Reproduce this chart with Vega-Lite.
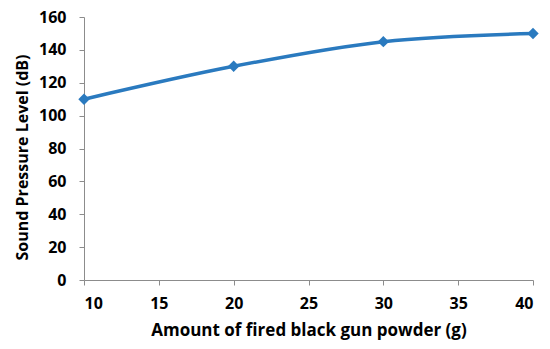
{
  "$schema": "https://vega.github.io/schema/vega-lite/v6.json",
  "width": 449,
  "height": 263,
  "autosize": {"type": "none"},
  "padding": {"left": 84, "top": 17, "right": 17, "bottom": 69},
  "background": "white",
  "data": {"values": [
    {"powder": 10, "spl": 110},
    {"powder": 20, "spl": 130},
    {"powder": 30, "spl": 145},
    {"powder": 40, "spl": 150}
  ]},
  "config": {
    "view": {"stroke": null},
    "font": "Open Sans"
  },
  "mark": {"type": "line", "interpolate": "monotone", "color": "#2a7abf", "strokeWidth": 3.5,
    "point": {"shape": "diamond", "size": 130, "filled": true, "color": "#2a7abf"}},
  "encoding": {
    "x": {"field": "powder", "type": "quantitative",
      "scale": {"domain": [10, 40], "nice": false, "zero": false},
      "axis": {"title": "Amount of fired black gun powder (g)", "values": [10, 15, 20, 25, 30, 35, 40],
        "grid": false, "domainColor": "#8c8c8c", "tickColor": "#8c8c8c", "tickSize": 5,
        "labelFont": "Open Sans", "labelFontSize": 16, "labelFontWeight": "bold", "labelColor": "#000",
        "labelPadding": 10, "titleFont": "Open Sans", "titleFontSize": 17, "titleFontWeight": "bold", "titleColor": "#000", "titlePadding": 11}},
    "y": {"field": "spl", "type": "quantitative",
      "scale": {"domain": [0, 160], "nice": false},
      "axis": {"title": "Sound Pressure Level (dB)", "values": [0, 20, 40, 60, 80, 100, 120, 140, 160],
        "grid": false, "domainColor": "#8c8c8c", "tickColor": "#8c8c8c", "tickSize": 5,
        "labelFont": "Open Sans", "labelFontSize": 16, "labelFontWeight": "bold", "labelColor": "#000",
        "labelPadding": 13, "titleFont": "Open Sans", "titleFontSize": 16, "titleFontWeight": "bold", "titleColor": "#000", "titlePadding": 8, "titleY": 140}}
  }
}
